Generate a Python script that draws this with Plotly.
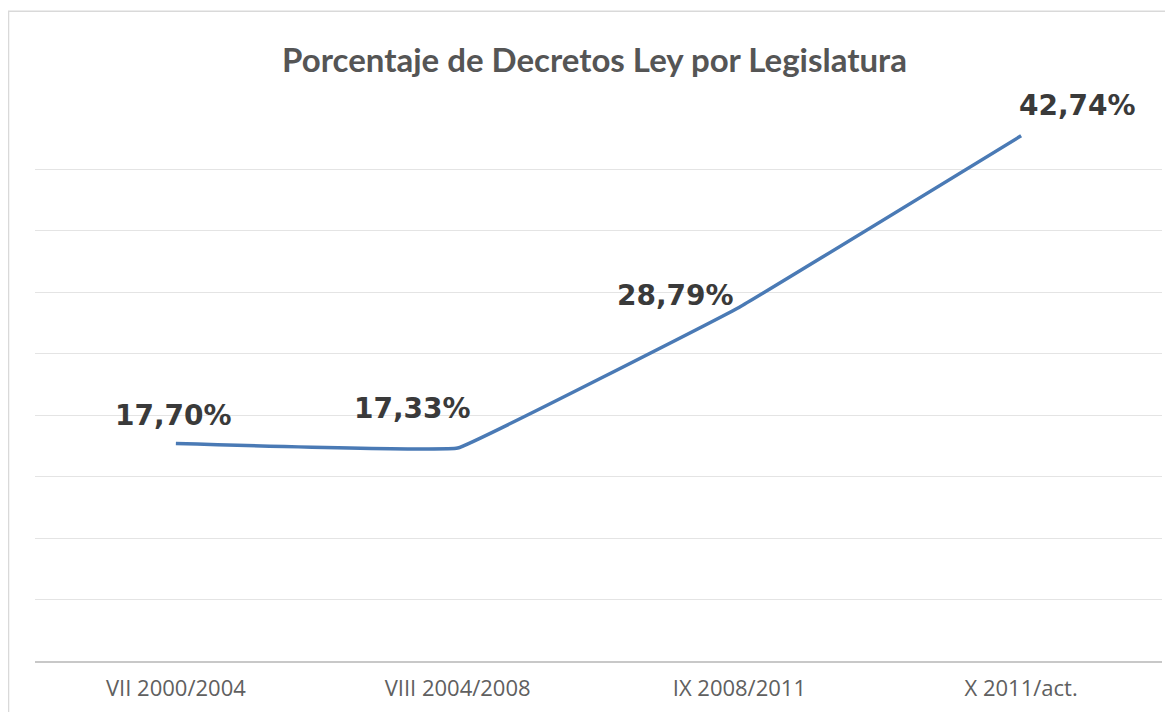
import plotly.graph_objects as go

categories = ["VII 2000/2004", "VIII 2004/2008", "IX 2008/2011", "X 2011/act."]
values = [17.70, 17.33, 28.79, 42.74]
labels = ["17,70%", "17,33%", "28,79%", "42,74%"]
label_dx = [-2, -45, -64, 56]
label_dy = [28, 40, 12, 30]

fig = go.Figure()
fig.add_trace(go.Scatter(
    x=categories, y=values, mode="lines",
    line=dict(color="#4a7ab5", width=3.5, shape="spline", smoothing=0.15),
    hoverinfo="skip", showlegend=False,
))

for c, v, t, dx, dy in zip(categories, values, labels, label_dx, label_dy):
    fig.add_annotation(x=c, y=v, text=t, showarrow=False, xref="x", yref="y",
                       xshift=dx, yshift=dy,
                       font=dict(family="DejaVu Sans", size=28, color="#3a3a3a", weight="bold"))

fig.add_shape(type="rect", xref="paper", yref="paper",
              x0=-0.0235, x1=1.05, y0=-0.2, y1=1.175,
              line=dict(color="#d9d9d9", width=1.5), layer="below")

fig.update_layout(
    width=1173, height=712,
    margin=dict(l=27, r=19, t=100, b=59),
    paper_bgcolor="white", plot_bgcolor="white",
    title=dict(text="Porcentaje de Decretos Ley por Legislatura",
               x=0.5, xanchor="center", y=0.927, yanchor="middle",
               font=dict(family="Lato", size=33, color="#555555", weight="bold")),
    xaxis=dict(range=[-0.5, 3.5], showgrid=False, showline=True, linecolor="#c8c8c8", linewidth=2,
               ticks="", ticklabelstandoff=7,
               tickfont=dict(family="Open Sans", size=22, color="#606060"),
               fixedrange=True),
    yaxis=dict(range=[0, 45], dtick=5, showticklabels=False, showgrid=True,
               gridcolor="#e4e4e4", gridwidth=1, zeroline=False, ticks="",
               fixedrange=True),
)

fig.write_html("out.html")
